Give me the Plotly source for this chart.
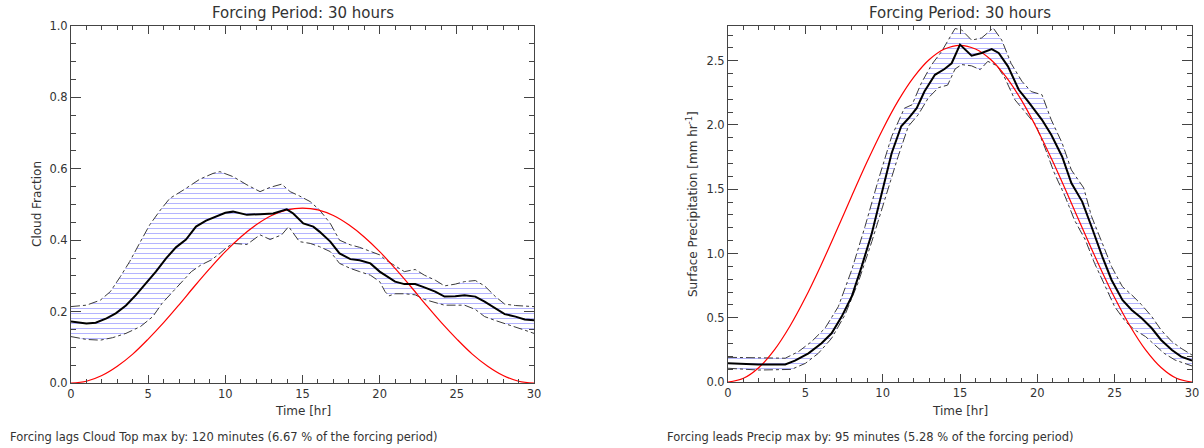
import plotly.graph_objects as go

# ---------------- data ----------------
hours = list(range(31))

# red forcing curves (read hourly)
cloud_forcing = [0.000, 0.005, 0.021, 0.047, 0.081, 0.123, 0.169, 0.219, 0.271, 0.321, 0.368,
                 0.409, 0.443, 0.469, 0.485, 0.490, 0.485, 0.469, 0.443, 0.409, 0.368,
                 0.321, 0.271, 0.219, 0.169, 0.123, 0.081, 0.047, 0.021, 0.005, 0.000]
precip_forcing = [0.000, 0.029, 0.113, 0.250, 0.434, 0.655, 0.905, 1.173, 1.447, 1.715, 1.965,
                  2.187, 2.370, 2.507, 2.591, 2.620, 2.591, 2.507, 2.370, 2.187, 1.965,
                  1.715, 1.447, 1.173, 0.905, 0.655, 0.434, 0.250, 0.113, 0.029, 0.000]

# cloud fraction: mean
cf_mean_t = [0, 1.0, 1.6, 2.3, 2.9, 3.56, 4.2, 4.86, 5.5, 6.16, 6.8, 7.45, 8.1, 8.75, 9.4, 10.0,
             10.5, 11.4, 12.25, 13.1, 13.98, 14.4, 15.05, 15.7, 16.1, 16.8, 17.4, 18.1, 18.7,
             19.4, 20.0, 20.35, 21.0, 21.6, 22.3, 22.9, 23.6, 24.2, 24.9, 25.5, 26.2, 26.8,
             27.5, 28.1, 28.8, 29.4, 30]
cf_mean_v = [0.172, 0.167, 0.169, 0.181, 0.195, 0.217, 0.246, 0.279, 0.312, 0.349, 0.380, 0.402,
             0.438, 0.455, 0.466, 0.477, 0.480, 0.471, 0.473, 0.475, 0.4865, 0.475, 0.447,
             0.438, 0.424, 0.396, 0.363, 0.347, 0.344, 0.335, 0.312, 0.302, 0.284, 0.277,
             0.277, 0.268, 0.256, 0.242, 0.243, 0.246, 0.242, 0.228, 0.209, 0.193, 0.186,
             0.178, 0.176]
# cloud fraction: upper bound
cf_up_t = [0, 1, 1.9, 2.55, 3.2, 3.8, 4.5, 5.1, 5.8, 6.4, 7.3, 8.35, 9.2, 9.65, 10.5, 11.4,
           12.25, 12.9, 13.65, 14.2, 14.8, 15.5, 16.1, 16.8, 17.4, 18.1, 18.7, 19.4, 20.0,
           20.35, 21.0, 21.6, 22.3, 22.9, 23.6, 24.2, 24.9, 25.5, 26.2, 26.8, 27.5, 28.1,
           28.8, 30]
cf_up_v = [0.214, 0.218, 0.232, 0.256, 0.298, 0.340, 0.396, 0.443, 0.485, 0.517, 0.541, 0.571,
           0.587, 0.592, 0.578, 0.555, 0.536, 0.548, 0.557, 0.536, 0.524, 0.508, 0.485, 0.447,
           0.400, 0.387, 0.380, 0.368, 0.359, 0.346, 0.328, 0.312, 0.318, 0.302, 0.288, 0.272,
           0.277, 0.284, 0.287, 0.272, 0.242, 0.221, 0.217, 0.214]
# cloud fraction: lower bound
cf_lo_t = [0, 1, 1.9, 2.7, 3.56, 4.5, 5.3, 5.9, 6.6, 7.2, 7.8, 8.4, 9.1, 9.65, 10.1, 10.5, 11.4,
           12.25, 12.9, 13.65, 14.1, 14.8, 15.5, 16.1, 16.8, 17.4, 18.1, 18.7, 19.4, 20.0,
           20.35, 20.6, 21.0, 21.6, 22.3, 22.9, 23.6, 24.2, 24.9, 25.5, 26.2, 26.8, 27.5,
           28.1, 28.8, 29.4, 30]
cf_lo_v = [0.130, 0.122, 0.120, 0.127, 0.139, 0.158, 0.186, 0.223, 0.256, 0.284, 0.312, 0.330,
           0.345, 0.363, 0.380, 0.391, 0.388, 0.415, 0.402, 0.415, 0.438, 0.396, 0.391, 0.382,
           0.368, 0.335, 0.321, 0.312, 0.302, 0.284, 0.256, 0.244, 0.250, 0.250, 0.247, 0.234,
           0.225, 0.218, 0.218, 0.218, 0.206, 0.186, 0.175, 0.167, 0.158, 0.148, 0.139]

# precipitation: mean
pr_mean_t = [0, 1.96, 3.7, 4.33, 5.2, 6.05, 6.7, 7.35, 8.0, 8.64, 9.3, 9.93, 10.58, 11.2, 11.66,
             12.2, 12.7, 13.38, 14.0, 14.46, 14.9, 15.0, 15.75, 16.4, 17.05, 17.5, 18.1, 18.8,
             19.4, 20.3, 20.9, 21.6, 22.2, 22.9, 23.5, 24.2, 24.8, 25.5, 26.1, 26.75, 27.4,
             28.0, 28.7, 29.3, 30]
pr_mean_v = [0.145, 0.137, 0.137, 0.166, 0.223, 0.301, 0.379, 0.509, 0.665, 0.898, 1.158, 1.470,
             1.780, 1.990, 2.050, 2.130, 2.260, 2.390, 2.435, 2.480, 2.600, 2.625, 2.539, 2.560,
             2.590, 2.560, 2.456, 2.274, 2.183, 2.040, 1.924, 1.755, 1.548, 1.404, 1.210, 0.976,
             0.794, 0.639, 0.561, 0.496, 0.418, 0.327, 0.249, 0.197, 0.166]
# precipitation: upper bound
pr_up_t = [0, 3.7, 4.55, 5.4, 6.27, 7.13, 8.0, 8.86, 9.72, 10.58, 11.4, 11.9, 12.5, 13.17, 13.8,
           14.68, 15.1, 15.75, 16.4, 17.15, 17.7, 18.3, 19.0, 19.6, 20.3, 20.9, 21.6, 22.2,
           23.0, 23.5, 24.2, 24.8, 25.5, 26.1, 26.75, 27.4, 28.0, 28.7, 29.3, 30]
pr_up_v = [0.192, 0.185, 0.236, 0.314, 0.418, 0.586, 0.872, 1.210, 1.573, 1.910, 2.130, 2.157,
           2.326, 2.470, 2.570, 2.750, 2.740, 2.660, 2.677, 2.754, 2.660, 2.480, 2.340, 2.260,
           2.235, 2.040, 1.860, 1.650, 1.510, 1.290, 1.080, 0.898, 0.742, 0.678, 0.600, 0.509,
           0.405, 0.314, 0.262, 0.210]
# precipitation: lower bound
pr_lo_t = [0, 1.96, 4.1, 5.0, 5.84, 6.7, 7.56, 8.4, 9.3, 10.15, 11.0, 11.66, 12.3, 12.95, 13.6,
           14.2, 14.68, 15.1, 15.75, 16.3, 16.8, 17.4, 17.9, 18.55, 19.2, 19.9, 20.5, 21.1,
           21.8, 22.4, 23.1, 23.7, 24.4, 25.0, 25.7, 26.3, 27.0, 27.6, 28.2, 28.9, 29.6, 30]
pr_lo_v = [0.107, 0.093, 0.098, 0.145, 0.223, 0.340, 0.522, 0.768, 1.093, 1.430, 1.755, 1.990,
           2.080, 2.210, 2.290, 2.310, 2.435, 2.470, 2.460, 2.430, 2.495, 2.460, 2.365, 2.196,
           2.105, 2.000, 1.820, 1.625, 1.443, 1.260, 1.106, 0.924, 0.742, 0.586, 0.470, 0.405,
           0.353, 0.288, 0.223, 0.171, 0.145, 0.125]

x_ticks = [0, 5, 10, 15, 20, 25, 30]
title_text = "Forcing Period: 30 hours"
left_note = "Forcing lags Cloud Top max by: 120 minutes (6.67 % of the forcing period)"
right_note = "Forcing leads Precip max by: 95 minutes (5.28 % of the forcing period)"

# ---------------- figure ----------------
W, H = 1204, 448
FONT = "DejaVu Sans"
TXT = "#333333"
AX = "#444444"

fig = go.Figure()


def add_panel(xa, ya, up_t, up_v, lo_t, lo_v, mean_t, mean_v, forcing):
    # hatched band
    fig.add_trace(go.Scatter(
        x=up_t + lo_t[::-1], y=up_v + lo_v[::-1], xaxis=xa, yaxis=ya,
        mode="lines", fill="toself", line=dict(width=0),
        fillcolor="rgba(0,0,0,0)",
        fillpattern=dict(shape="-", fgcolor="#b4b4ff", bgcolor="rgba(255,255,255,0)",
                         size=5, solidity=0.2),
        hoverinfo="skip", showlegend=False))
    for tt, vv in ((up_t, up_v), (lo_t, lo_v)):
        fig.add_trace(go.Scatter(
            x=tt, y=vv, xaxis=xa, yaxis=ya, mode="lines",
            line=dict(color="#3a3a3a", width=1, dash="dashdot"), showlegend=False))
    fig.add_trace(go.Scatter(
        x=hours, y=forcing, xaxis=xa, yaxis=ya, mode="lines",
        line=dict(color="#ff0000", width=1.2, shape="spline"), showlegend=False))
    fig.add_trace(go.Scatter(
        x=mean_t, y=mean_v, xaxis=xa, yaxis=ya, mode="lines",
        line=dict(color="#000000", width=2), showlegend=False))


add_panel("x", "y", cf_up_t, cf_up_v, cf_lo_t, cf_lo_v, cf_mean_t, cf_mean_v, cloud_forcing)
add_panel("x2", "y2", pr_up_t, pr_up_v, pr_lo_t, pr_lo_v, pr_mean_t, pr_mean_v, precip_forcing)

common_x = dict(range=[0, 30], tickvals=x_ticks, ticks="inside", ticklen=8, tickwidth=1,
                tickcolor=AX, showline=True, linecolor=AX, linewidth=1, mirror="ticks",
                showgrid=False, zeroline=False, automargin=False,
                minor=dict(ticks="inside", dtick=1, ticklen=4, tickcolor=AX, showgrid=False),
                tickfont=dict(family=FONT, size=11.5, color=TXT))
common_y = dict(ticks="inside", ticklen=10, tickwidth=1, tickcolor=AX, showline=True,
                linecolor=AX, linewidth=1, mirror="ticks", showgrid=False, zeroline=False,
                automargin=False,
                tickfont=dict(family=FONT, size=11.5, color=TXT), tickformat=".1f")

fig.update_layout(
    template="none",
    width=W, height=H, margin=dict(l=0, r=0, t=0, b=0, autoexpand=False),
    paper_bgcolor="white", plot_bgcolor="white",
    xaxis=dict(domain=[71 / W, 534 / W], anchor="y", **common_x),
    yaxis=dict(domain=[1 - 383 / H, 1 - 26 / H], anchor="x", range=[0, 1], dtick=0.2,
               minor=dict(ticks="inside", dtick=0.05, ticklen=5, tickcolor=AX, showgrid=False),
               **common_y),
    xaxis2=dict(domain=[728 / W, 1192 / W], anchor="y2", **common_x),
    yaxis2=dict(domain=[1 - 382 / H, 1 - 26 / H], anchor="x2", range=[0, 2.77], dtick=0.5,
                minor=dict(ticks="inside", dtick=0.1, ticklen=5, tickcolor=AX, showgrid=False),
                **common_y),
    showlegend=False,
)


def ann(text, px, py, size=12, xanchor="center", angle=0):
    fig.add_annotation(text=text, x=px / W, y=1 - py / H, xref="paper", yref="paper",
                       xanchor=xanchor, yanchor="middle", showarrow=False, textangle=angle,
                       font=dict(family=FONT, size=size, color=TXT))


ann(title_text, 302.5, 13, size=15)
ann(title_text, 960, 13, size=15)
ann("Time [hr]", 302.5, 411)
ann("Time [hr]", 960, 411)
ann("Cloud Fraction", 37, 204, angle=-90)
ann("Surface Precipitation [mm hr<sup>-1</sup>]", 692, 204, angle=-90)
ann(left_note, 8, 437, size=11.5, xanchor="left")
ann(right_note, 665, 437, size=11.5, xanchor="left")

fig.write_html(
    "out.html",
    config={"displayModeBar": False},
    post_script="document.body.style.margin='0px';document.body.style.overflow='hidden';",
)
